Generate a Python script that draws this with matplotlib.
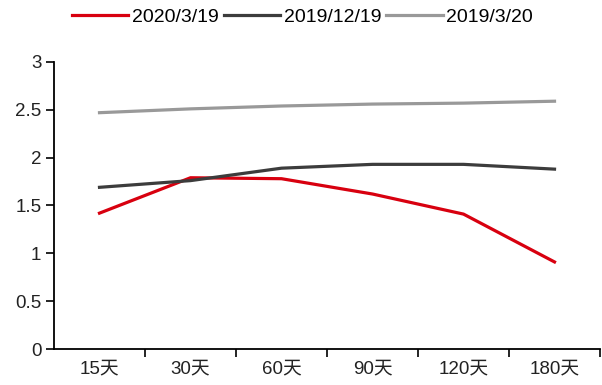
import matplotlib
matplotlib.use("Agg")
import matplotlib.pyplot as plt
import numpy as np

plt.rcParams['font.family'] = ['Liberation Sans', 'Noto Sans CJK SC']

categories = ["15天", "30天", "60天", "90天", "120天", "180天"]
s_2020_03_19 = [1.42, 1.79, 1.78, 1.62, 1.41, 0.91]
s_2019_12_19 = [1.69, 1.76, 1.89, 1.93, 1.93, 1.88]
s_2019_03_20 = [2.47, 2.51, 2.54, 2.56, 2.57, 2.59]

fig = plt.figure(figsize=(6.02, 3.85), dpi=100)
ax = fig.add_axes([0.0897, 0.0935, 0.907, 0.7455])

x = np.arange(len(categories))
ax.plot(x, s_2020_03_19, color="#d8000f", lw=2.3, label="2020/3/19")
ax.plot(x, s_2019_12_19, color="#3c3c3c", lw=2.3, label="2019/12/19")
ax.plot(x, s_2019_03_20, color="#999999", lw=2.3, label="2019/3/20")

ax.set_xlim(-0.5, len(categories) - 0.5)
ax.set_ylim(0, 3)
ax.set_yticks(np.arange(0, 3.01, 0.5))
ax.set_yticklabels(["0", "0.5", "1", "1.5", "2", "2.5", "3"])

ax.set_xticks(x)
ax.set_xticklabels(categories)
ax.set_xticks(np.arange(0.5, len(categories), 1), minor=True)
ax.tick_params(axis="x", which="major", length=0, pad=8, labelsize=13.5, colors="#222222")
ax.tick_params(axis="x", which="minor", length=6, width=1.2, direction="out")
ax.tick_params(axis="y", length=6, width=1.2, direction="out", labelsize=13.5, pad=3, colors="#222222")
ax.tick_params(axis="both", which="both", color="black")

for side in ("top", "right"):
    ax.spines[side].set_visible(False)
for side in ("left", "bottom"):
    ax.spines[side].set_linewidth(1.3)

ax.legend(loc="center", bbox_to_anchor=(0.455, 1.155), ncol=3, frameon=False,
          fontsize=14, handlelength=2.9, handletextpad=0.2, columnspacing=0.25)

fig.savefig("out.png", dpi=100)
